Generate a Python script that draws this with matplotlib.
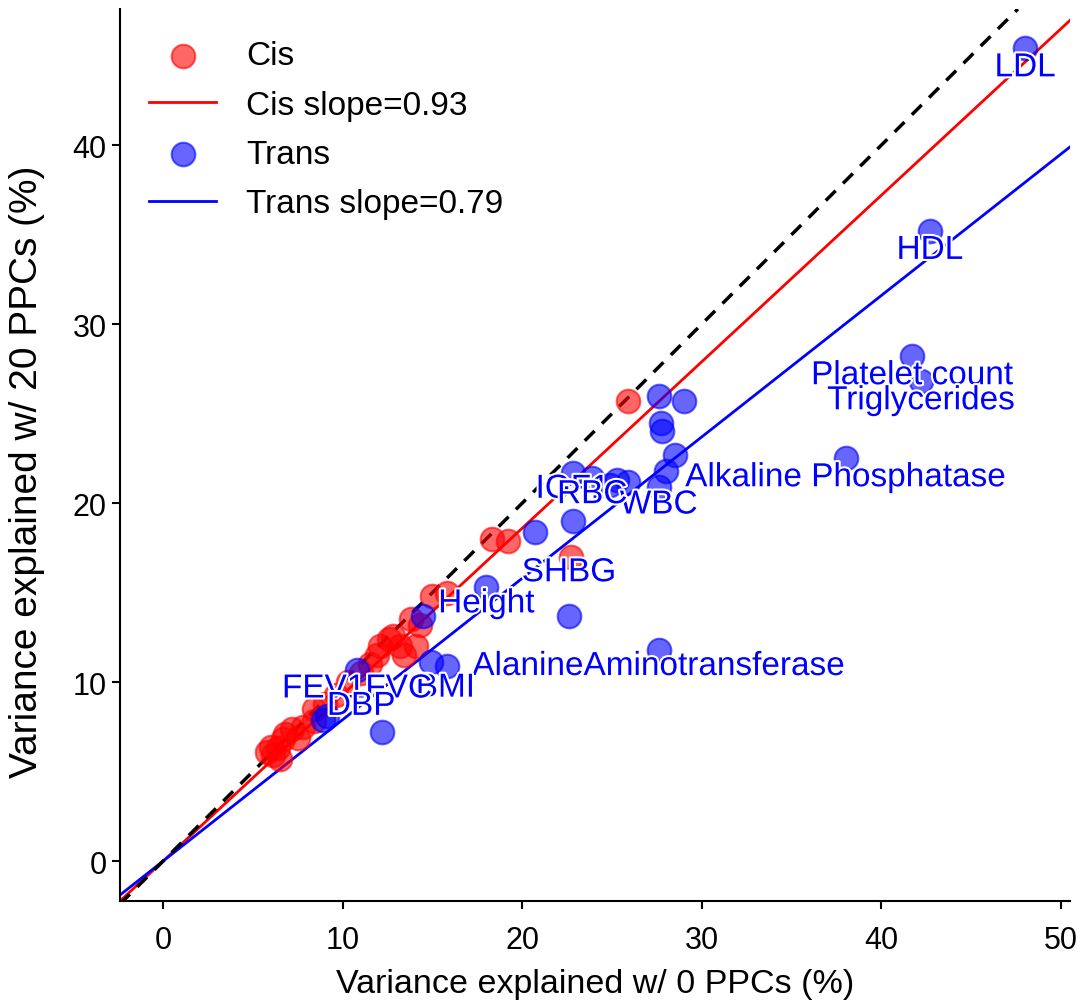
import matplotlib
matplotlib.use("Agg")
import matplotlib.pyplot as plt
import matplotlib.patheffects as pe
import numpy as np

plt.rcParams['font.family'] = ['Liberation Sans', 'DejaVu Sans']

# Cis points (x: 0 PPCs, y: 20 PPCs)
cis_x = [25.9, 18.3, 19.2, 22.7, 15.8, 15.0, 13.8, 14.3, 12.6, 13.2, 14.1, 12.1,
         13.4, 11.9, 11.5, 11.0, 9.6, 9.0, 8.4, 7.2, 6.7, 6.4, 6.1, 7.8, 8.4,
         6.5, 5.8, 6.8, 6.0, 7.5, 10.3, 12.8]
cis_y = [25.7, 18.0, 17.9, 17.0, 15.0, 14.8, 13.5, 13.2, 12.4, 12.0, 12.0, 12.0,
         11.5, 11.5, 11.0, 10.5, 9.3, 8.8, 8.5, 7.4, 6.8, 6.3, 5.9, 7.5, 7.8,
         5.7, 6.1, 7.1, 6.4, 6.9, 10.0, 12.6]

# Trans points
trans_x = [48.0, 42.7, 41.7, 42.2, 38.0, 27.6, 22.8, 23.9, 22.6, 18.0, 27.6,
           15.8, 10.8, 9.1,
           27.6, 29.0, 27.7, 27.8, 28.5, 28.0, 25.3, 22.8, 20.7, 14.9, 14.5,
           12.2, 8.9, 25.9, 24.9]
trans_y = [45.4, 35.2, 28.2, 26.8, 22.5, 20.9, 21.7, 21.4, 13.7, 15.3, 11.8,
           10.9, 10.7, 8.1,
           26.0, 25.7, 24.5, 24.0, 22.7, 21.8, 21.3, 19.0, 18.4, 11.1, 13.7,
           7.2, 7.9, 21.2, 21.0]
trans_labels = ["LDL", "HDL", "Platelet count", "Triglycerides", "Alkaline Phosphatase",
                "WBC", "IGF1", "RBC", "SHBG", "Height", "AlanineAminotransferase",
                "BMI", "FEV1FVC", "DBP"]

cis_slope = 0.93
trans_slope = 0.79

# label offsets (points)
label_offsets = {"SHBG": (0, 31), "DBP": (25, 7), "FEV1FVC": (0, -14),
                 "BMI": (-1, -16), "WBC": (0, -13), "IGF1": (0, -12), "RBC": (0, -12),
                 "Height": (0, -12), "AlanineAminotransferase": (0, -12)}

fig = plt.figure(figsize=(10.83, 10.04), dpi=100)
ax = fig.add_axes([120/1083, 1 - 902/1004, (1070-120)/1083, (902-10)/1004])

xlim = (-2.4, 50.5)
ylim = (-2.23, 47.6)

ax.scatter(cis_x, cis_y, s=290, color='red', alpha=0.6, label='Cis', zorder=3, linewidths=1.5)
xx = np.array(xlim)
ax.plot(xx, cis_slope * xx, color='red', lw=2, label=f'Cis slope={cis_slope:.2f}', zorder=2)
ax.scatter(trans_x, trans_y, s=290, color='blue', alpha=0.6, label='Trans', zorder=3, linewidths=1.5)
ax.plot(xx, trans_slope * xx, color='blue', lw=2, label=f'Trans slope={trans_slope:.2f}', zorder=2)
ax.plot([xlim[0], ylim[1]], [xlim[0], ylim[1]], color='black', ls='--', lw=2.5, dashes=(4, 3), zorder=2)

for i, lab in enumerate(trans_labels):
    off = label_offsets.get(lab, (0, -14))
    ax.annotate(lab, (trans_x[i], trans_y[i]), xytext=off, textcoords='offset points',
                ha='center', va='center', color='blue', fontsize=24, zorder=5,
                path_effects=[pe.withStroke(linewidth=3, foreground='white')])

ax.set_xlim(*xlim)
ax.set_ylim(*ylim)
ax.spines['top'].set_visible(False)
ax.spines['right'].set_visible(False)
ax.spines['left'].set_linewidth(1.5)
ax.spines['bottom'].set_linewidth(1.5)
ax.set_xticks([0, 10, 20, 30, 40, 50])
ax.set_yticks([0, 10, 20, 30, 40])
ax.tick_params(labelsize=22, width=1.5, length=6)
ax.tick_params(axis='x', pad=11)
ax.set_xlabel('Variance explained w/ 0 PPCs (%)', fontsize=24.5, labelpad=10)
ax.set_ylabel('Variance explained w/ 20 PPCs (%)', fontsize=28)
ax.yaxis.set_label_coords(-0.079, 0.482)
ax.legend(loc='upper left', fontsize=24, frameon=False, borderaxespad=0.3,
          bbox_to_anchor=(6/950, 1 - 8/892), labelspacing=0.55,
          handlelength=2.0, handletextpad=0.9)

fig.savefig('out.png', dpi=100)
